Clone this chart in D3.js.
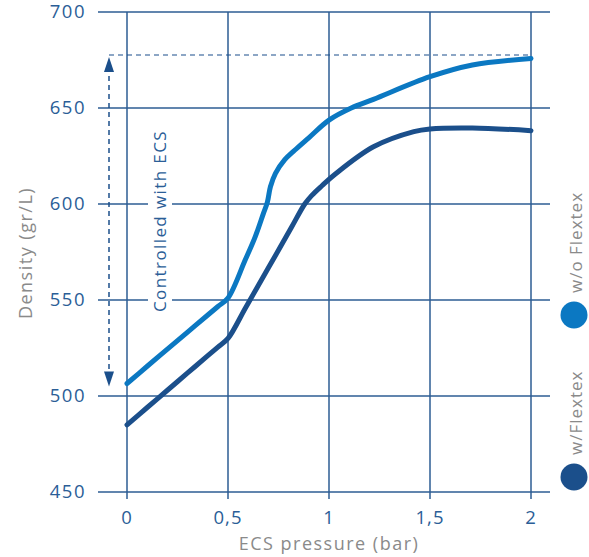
<!DOCTYPE html>
<html>
<head>
<meta charset="utf-8">
<script src="https://cdn.jsdelivr.net/npm/d3@7"></script>
<style>
  html, body { margin: 0; padding: 0; background: #fff; }
  svg { display: block; }
  text { font-family: "Open Sans", sans-serif; }
</style>
</head>
<body>
<svg id="chart" width="589" height="557"></svg>
<script>
// ---- data ----
const xTicks = [0, 0.5, 1, 1.5, 2];
const xTickLabels = ["0", "0,5", "1", "1,5", "2"];
const yTicks = [450, 500, 550, 600, 650, 700];
const yTickLabels = ["450", "500", "550", "600", "650", "700"];

const woPressure = [0, 0.1, 0.2, 0.3, 0.4, 0.45, 0.5, 0.585, 0.635, 0.675, 0.695, 0.71, 0.735, 0.78, 0.83, 0.9, 1.0, 1.11, 1.22, 1.5, 1.71, 2.0];
const woDensity  = [506.5, 515.5, 524.4, 533.3, 542.2, 546.6, 551, 570.8, 583, 595, 601, 609, 616, 623, 628, 634.5, 643.7, 650, 654.5, 666.3, 672.4, 675.8];

const wPressure = [0, 0.1, 0.2, 0.3, 0.4, 0.45, 0.5, 0.585, 0.65, 0.735, 0.815, 0.88, 0.915, 0.965, 1.03, 1.22, 1.42, 1.5, 1.71, 2.0];
const wDensity  = [485, 494, 503, 512, 521, 525.5, 530, 545.6, 557.6, 573.2, 588, 600, 604.5, 609.5, 615.5, 629.8, 637.7, 639.1, 639.6, 638.2];

const controlRange = [505, 677.6];
const seriesNames = ["w/o Flextex", "w/Flextex"];
const annotation = "Controlled with ECS";
const xTitle = "ECS pressure (bar)";
const yTitle = "Density (gr/L)";

// ---- drawing ----
const svg = d3.select("#chart");
const x = d3.scaleLinear().domain([0, 2]).range([127, 531]);
const y = d3.scaleLinear().domain([450, 700]).range([492, 12]);

const gridColor = "#2c5c93";
const labelColor = "#2b5e97";
const grayColor = "#8a8a8a";
const lightBlue = "#0b78c2";
const darkBlue = "#1b4f8b";

const xLeft = x(0) - 29, xRight = x(2) + 19;

// horizontal grid lines
svg.append("g").selectAll("line").data(yTicks).join("line")
  .attr("x1", xLeft).attr("x2", xRight)
  .attr("y1", d => y(d)).attr("y2", d => y(d))
  .attr("stroke", gridColor).attr("stroke-width", 1.5);

// vertical grid lines
svg.append("g").selectAll("line").data(xTicks).join("line")
  .attr("x1", d => x(d)).attr("x2", d => x(d))
  .attr("y1", y(700)).attr("y2", y(450) + 7)
  .attr("stroke", gridColor).attr("stroke-width", 1.5);

// y tick labels
svg.append("g").selectAll("text").data(yTicks).join("text")
  .attr("x", 86).attr("y", d => y(d)).attr("dy", "0.35em")
  .attr("text-anchor", "end")
  .attr("font-size", 18.5).attr("letter-spacing", 1.5)
  .attr("fill", labelColor)
  .text((d, i) => yTickLabels[i]);

// x tick labels
svg.append("g").selectAll("text").data(xTicks).join("text")
  .attr("x", d => x(d)).attr("y", 524)
  .attr("text-anchor", "middle")
  .attr("font-size", 18.5).attr("letter-spacing", 1)
  .attr("fill", labelColor)
  .text((d, i) => xTickLabels[i]);

// axis titles
svg.append("text")
  .attr("x", x(1)).attr("y", 550)
  .attr("text-anchor", "middle")
  .attr("font-size", 18).attr("letter-spacing", 1.5).attr("fill", grayColor)
  .text(xTitle);

svg.append("text")
  .attr("transform", `translate(32, 253) rotate(-90)`)
  .attr("text-anchor", "middle")
  .attr("font-size", 18).attr("letter-spacing", 1.5).attr("fill", grayColor)
  .text(yTitle);

// dashed control markers
const ax = 109;
svg.append("line")
  .attr("x1", ax).attr("x2", x(2))
  .attr("y1", y(controlRange[1])).attr("y2", y(controlRange[1]))
  .attr("stroke", darkBlue).attr("stroke-width", 1.2)
  .attr("stroke-dasharray", "5,4");

svg.append("line")
  .attr("x1", ax).attr("x2", ax)
  .attr("y1", y(controlRange[1]) + 12).attr("y2", y(controlRange[0]) - 12)
  .attr("stroke", darkBlue).attr("stroke-width", 1.5)
  .attr("stroke-dasharray", "5,4");

const topTip = y(controlRange[1]) + 2;
const botTip = y(controlRange[0]);
svg.append("path")
  .attr("d", `M${ax},${topTip} L${ax - 5},${topTip + 15} L${ax + 5},${topTip + 15} Z`)
  .attr("fill", darkBlue);
svg.append("path")
  .attr("d", `M${ax},${botTip} L${ax - 5},${botTip - 15} L${ax + 5},${botTip - 15} Z`)
  .attr("fill", darkBlue);

// annotation with white knockout
const annCx = 160, annCy = 221;
svg.append("rect")
  .attr("x", annCx - 12).attr("y", annCy - 94)
  .attr("width", 24).attr("height", 188)
  .attr("fill", "#fff");
svg.append("text")
  .attr("transform", `translate(${annCx + 6}, ${annCy}) rotate(-90)`)
  .attr("text-anchor", "middle")
  .attr("font-size", 17).attr("letter-spacing", 1.4).attr("fill", labelColor)
  .text(annotation);

// series lines
const line = d3.line()
  .x(d => x(d[0])).y(d => y(d[1]))
  .curve(d3.curveCatmullRom.alpha(0.5));

const woData = woPressure.map((p, i) => [p, woDensity[i]]);
const wData = wPressure.map((p, i) => [p, wDensity[i]]);

svg.append("path").datum(wData)
  .attr("d", line).attr("fill", "none")
  .attr("stroke", darkBlue).attr("stroke-width", 5)
  .attr("stroke-linecap", "round").attr("stroke-linejoin", "round");

svg.append("path").datum(woData)
  .attr("d", line).attr("fill", "none")
  .attr("stroke", lightBlue).attr("stroke-width", 5)
  .attr("stroke-linecap", "round").attr("stroke-linejoin", "round");

// legend
const legendItems = [
  { name: seriesNames[0], color: lightBlue, cy: 315 },
  { name: seriesNames[1], color: darkBlue, cy: 477 }
];
const lg = svg.append("g");
legendItems.forEach(it => {
  lg.append("circle").attr("cx", 574).attr("cy", it.cy).attr("r", 13.5).attr("fill", it.color);
  lg.append("text")
    .attr("transform", `translate(582, ${it.cy - 22}) rotate(-90)`)
    .attr("text-anchor", "start")
    .attr("font-size", 17).attr("letter-spacing", 1).attr("fill", grayColor)
    .text(it.name);
});
</script>
</body>
</html>
